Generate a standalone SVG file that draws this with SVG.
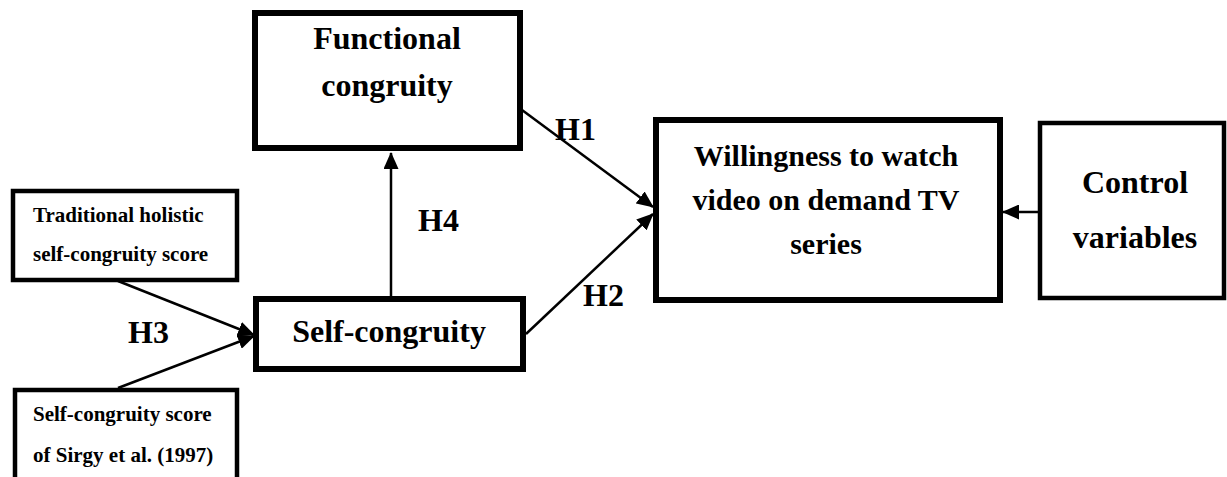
<svg xmlns="http://www.w3.org/2000/svg" width="1227" height="477" viewBox="0 0 1227 477">
  <style>
    .box { fill: #ffffff; stroke: #000000; stroke-width: 6; }
    .box-thin { fill: #ffffff; stroke: #000000; stroke-width: 4.5; }
    .big { font-family: "Liberation Serif", "Times New Roman", serif; font-weight: bold; font-size: 32px; fill: #000000; }
    .mid { font-family: "Liberation Serif", "Times New Roman", serif; font-weight: bold; font-size: 30px; fill: #000000; }
    .small { font-family: "Liberation Serif", "Times New Roman", serif; font-weight: bold; font-size: 21px; fill: #000000; }
    .link { fill: none; stroke: #000000; stroke-width: 2.5; }
  </style>
  <defs>
    <marker id="arrow" markerUnits="userSpaceOnUse" markerWidth="17" markerHeight="15" refX="16" refY="7.5" orient="auto">
      <path d="M0,0 L17,7.5 L0,15 Z" fill="#000000"/>
    </marker>
  </defs>

  <rect width="1227" height="477" fill="#ffffff"/>

  <!-- connectors -->
  <g id="connectors">
    <line class="link" x1="391" y1="296" x2="391" y2="153" marker-end="url(#arrow)"/>
    <line class="link" x1="522" y1="110" x2="653" y2="207" marker-end="url(#arrow)"/>
    <line class="link" x1="526" y1="334" x2="653" y2="214" marker-end="url(#arrow)"/>
    <line class="link" x1="118" y1="281" x2="254" y2="335" marker-end="url(#arrow)"/>
    <line class="link" x1="118" y1="388" x2="254" y2="336" marker-end="url(#arrow)"/>
    <line class="link" x1="1040" y1="212" x2="1003" y2="212" marker-end="url(#arrow)"/>
  </g>

  <!-- hypothesis labels -->
  <g id="labels">
    <text class="big" x="555" y="140">H1</text>
    <text class="big" x="583" y="306">H2</text>
    <text class="big" x="128" y="343">H3</text>
    <text class="big" x="418" y="231">H4</text>
  </g>

  <g id="functional-congruity">
    <rect class="box" x="255" y="13" width="265" height="135"/>
    <text class="big" x="387" y="49" text-anchor="middle">Functional</text>
    <text class="big" x="387" y="96" text-anchor="middle">congruity</text>
  </g>

  <g id="self-congruity">
    <rect class="box" x="256" y="299" width="267" height="70"/>
    <text class="big" x="389" y="342" text-anchor="middle">Self-congruity</text>
  </g>

  <g id="traditional-score">
    <rect class="box-thin" x="13" y="191" width="224" height="89"/>
    <text class="small" x="33" y="222">Traditional holistic</text>
    <text class="small" x="33" y="261">self-congruity score</text>
  </g>

  <g id="sirgy-score">
    <rect class="box-thin" x="15" y="390" width="222" height="100"/>
    <text class="small" x="33" y="421">Self-congruity score</text>
    <text class="small" x="33" y="462">of Sirgy et al. (1997)</text>
  </g>

  <g id="willingness">
    <rect class="box" x="656" y="120" width="344" height="180"/>
    <text class="mid" x="826" y="166" text-anchor="middle">Willingness to watch</text>
    <text class="mid" x="826" y="210" text-anchor="middle">video on demand TV</text>
    <text class="mid" x="826" y="254" text-anchor="middle">series</text>
  </g>

  <g id="control-variables">
    <rect class="box-thin" x="1040" y="123" width="184" height="175"/>
    <text class="big" x="1135" y="193" text-anchor="middle">Control</text>
    <text class="big" x="1135" y="248" text-anchor="middle">variables</text>
  </g>
</svg>
